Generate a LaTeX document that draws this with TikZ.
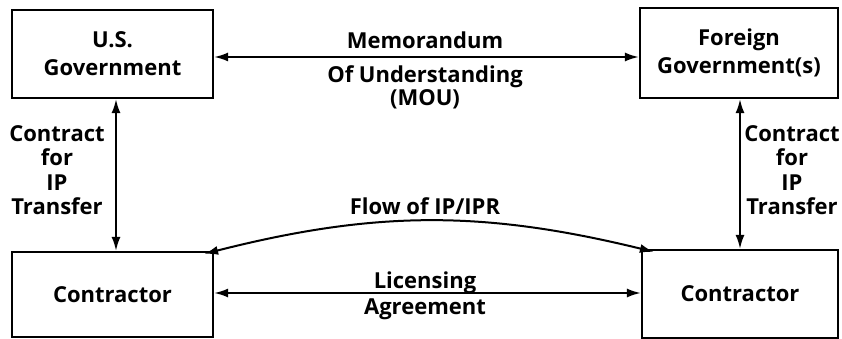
\documentclass[tikz,border=0pt]{standalone}
\usepackage{fontspec}
\setmainfont{Open Sans}
\usetikzlibrary{arrows.meta}
\tikzset{
  party/.style={draw, line width=2.2pt, rectangle, align=center, inner sep=0pt,
    font=\fontsize{22}{28}\selectfont\bfseries},
  lbl/.style={align=center, inner sep=0pt, font=\fontsize{22}{24.5}\selectfont\bfseries},
  link/.style={line width=2pt, {Latex[length=14pt,width=9pt]}-{Latex[length=14pt,width=9pt]}}
}
\begin{document}
\begin{tikzpicture}[x=1pt,y=-1pt]
\useasboundingbox (0,0) rectangle (842,339);

% the four parties
\node[party, minimum width=201pt, minimum height=88pt] (usg) at (112.5,54) {U.S.\\Government};
\node[party, minimum width=198pt, minimum height=90pt] (fg) at (739,53) {Foreign\\Government(s)};
\node[party, minimum width=201pt, minimum height=85pt] (cl) at (112.5,294.5) {Contractor};
\node[party, minimum width=196pt, minimum height=88pt] (cr) at (740,294) {Contractor};

% government-to-government agreement
\draw[link] ([yshift=-3pt]usg.east) -- ([yshift=-3pt]usg.east -| fg.west);
\node[lbl] (mou1) at (425,40) {Memorandum};
\node[lbl] (mou2) at (425,77) {Of Understanding};
\node[lbl] (mou3) at (425,99) {(MOU)};

% government-to-contractor contracts
\draw[link] ([xshift=3.5pt]usg.south) -- ([xshift=3.5pt]usg.south |- cl.north);
\node[lbl] (cfl) at (57,170) {Contract\\for\\IP\\Transfer};
\draw[link] ([xshift=1pt]fg.south) -- ([xshift=1pt]fg.south |- cr.north);
\node[lbl] (cfr) at (792,170) {Contract\\for\\IP\\Transfer};

% flow of IP between contractors
\draw[link] ([xshift=-10pt,yshift=-3pt]cl.north east) to[bend left=14] ([xshift=13pt,yshift=-3pt]cr.north west);
\node[lbl] (flow) at (425,206) {Flow of IP/IPR};

% licensing agreement
\draw[link] ([yshift=1.5pt]cl.east) -- ([yshift=1.5pt]cl.east -| cr.west);
\node[lbl] (lic1) at (425,283) {Licensing};
\node[lbl] (lic2) at (425,309) {Agreement};
\end{tikzpicture}
\end{document}
